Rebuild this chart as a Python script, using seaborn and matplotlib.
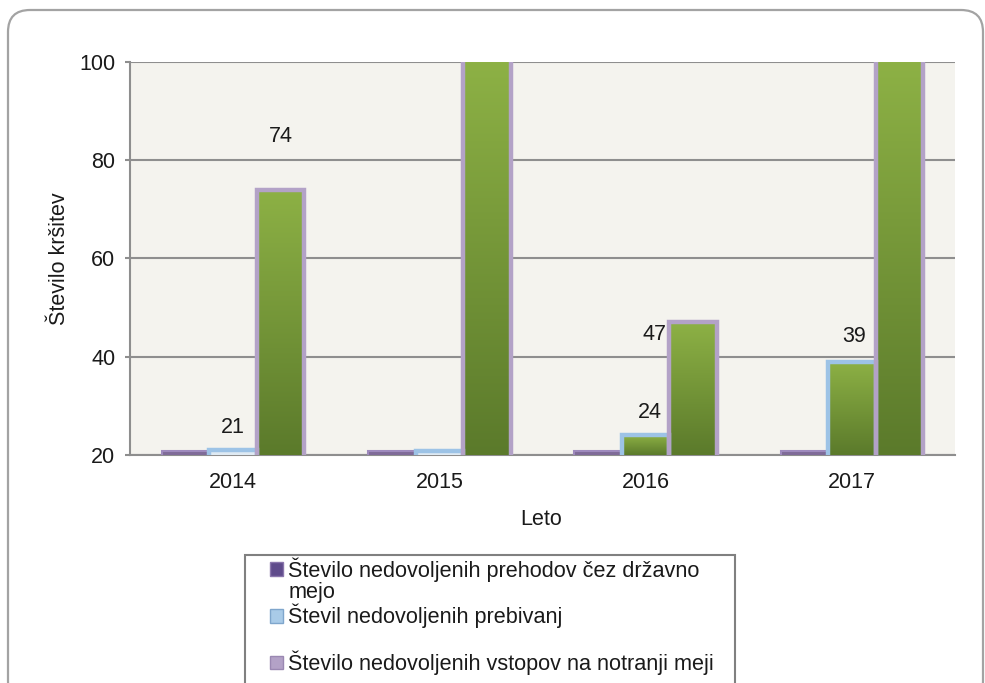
import numpy as np
import pandas as pd
import matplotlib
matplotlib.use("Agg")
import matplotlib.pyplot as plt
import seaborn as sns
from matplotlib.colors import to_rgb
from matplotlib.patches import Patch, FancyBboxPatch, Rectangle

# ----------------------- Podatki ------------------------
leta = ["2014", "2015", "2016", "2017"]
serije = ["Število nedovoljenih prehodov čez državno mejo",
          "Števil nedovoljenih prebivanj",
          "Število nedovoljenih vstopov na notranji meji"]
prehodi = [20.8, 20.8, 20.8, 20.8]
prebivanja = [21, 20.8, 24, 39]
vstopi = [74, 125, 47, 125]
oznake = {1: ["21", None, "24", "39"], 2: ["74", None, "47", None]}

df = pd.DataFrame({
    "Leto": leta * 3,
    "serija": [serije[0]] * 4 + [serije[1]] * 4 + [serije[2]] * 4,
    "vrednost": prehodi + prebivanja + vstopi,
})

# ----------------------- Graf ------------------------
sns.set_style("white")
plt.rcParams["font.family"] = ["Liberation Sans", "DejaVu Sans"]

fig = plt.figure(figsize=(9.85, 6.83), dpi=100)
ax = fig.add_axes([130 / 985, 1 - 455 / 683, 825 / 985, 393 / 683])
ax.set_facecolor("#F4F3EE")

barve = ["#7E63A0", "#DCEAF6", "#7A9B38"]
sns.barplot(data=df, x="Leto", y="vrednost", hue="serija", hue_order=serije,
            palette=barve, width=0.69, legend=False, ax=ax, zorder=3)

ymin, ymax = 20, 100
ax.set_ylim(ymin, ymax)
ax.set_yticks([20, 40, 60, 80, 100])
ax.set_axisbelow(True)
ax.grid(axis="y", color="#8E8E8E", lw=1.5)
ax.grid(axis="x", visible=False)

# gradient zelenih stolpcev
zg, sp = np.array(to_rgb("#8DB145")), np.array(to_rgb("#5B7A2B"))

robovi = ["#9E8ABD", "#9DC3E6", "#B3A2C7"]
zelena = {1: [False, False, True, True], 2: [True, True, True, True]}
for i, cont in enumerate(ax.containers):
    for j, bar in enumerate(cont):
        bar.set_edgecolor(robovi[i])
        bar.set_linewidth(3.2 if i > 0 else 1.5)
        if i in zelena and zelena[i][j]:
            x0 = bar.get_x()
            x1 = x0 + bar.get_width()
            y0 = max(bar.get_y(), ymin)
            y1 = min(bar.get_y() + bar.get_height(), ymax)
            t = np.linspace(0, 1, 256)[:, None, None]
            grad = zg * (1 - t) + sp * t
            im = ax.imshow(grad, extent=[x0, x1, y0, y1], origin="upper",
                           aspect="auto", zorder=2.9, interpolation="bilinear")
            im.set_clip_box(ax.bbox)
            bar.set_facecolor("none")

# oznake vrednosti
zamiki = {(1, 0): (0, 23), (1, 2): (4, 23), (1, 3): (2, 25),
          (2, 0): (0, 53), (2, 2): (-39, -12)}
for (i, j), (dx, dy) in zamiki.items():
    bar = ax.containers[i][j]
    ax.annotate(oznake[i][j], (bar.get_x() + bar.get_width() / 2, bar.get_height()),
                xytext=(dx, dy), textcoords="offset pixels", ha="center", va="center",
                fontsize=15.5, color="#1A1A1A", zorder=5, annotation_clip=False)

ax.set_xlim(-0.5, 3.5)
ax.set_ylim(ymin, ymax)

for s in ["top", "right"]:
    ax.spines[s].set_visible(False)
for s in ["left", "bottom"]:
    ax.spines[s].set_color("#8E8E8E")
    ax.spines[s].set_linewidth(1.5)

ax.set_xticks([-0.5, 0.5, 1.5, 2.5, 3.5], minor=True)
ax.tick_params(axis="x", which="major", length=0, pad=12, labelsize=15.5, labelcolor="#1A1A1A")
ax.tick_params(axis="x", which="minor", length=5, width=1.5, color="#8E8E8E", direction="out")
ax.tick_params(axis="y", length=3.5, width=1.5, color="#8E8E8E", direction="out", left=True,
               pad=7, labelsize=15.5, labelcolor="#1A1A1A")

ax.set_xlabel("Leto", fontsize=15.5, va="center", color="#1A1A1A")
ax.xaxis.set_label_coords(0.498, -0.165)
ax.set_ylabel("Število kršitev", fontsize=15.5, va="center", color="#1A1A1A")
ax.yaxis.set_label_coords(-0.085, 0.5)

# okvir
fig.patches.append(FancyBboxPatch((8, -20), 975, 693, boxstyle="round,pad=0,rounding_size=22",
                                  transform=None, fill=False, edgecolor="#A3A3A3", lw=1.6))

# legenda
fig.patches.append(Rectangle((245 / 985, -0.05), 490 / 985, 0.05 + 128 / 683,
                             transform=fig.transFigure, fill=False, edgecolor="#808080", lw=1.5))
prazno = Patch(facecolor="none", edgecolor="none")
rocaji = [Patch(facecolor="#5F4B8B", edgecolor="#8A76AC"), prazno,
          Patch(facecolor="#A9CBE8", edgecolor="#7FA6CC"), prazno,
          Patch(facecolor="#B3A2C7", edgecolor="#9A88B2")]
napisi = ["Število nedovoljenih prehodov čez državno", "mejo",
          "Števil nedovoljenih prebivanj", " ",
          "Število nedovoljenih vstopov na notranji meji"]
fig.legend(rocaji, napisi, loc="upper left", bbox_to_anchor=(270 / 985, 1 - 557 / 683),
           frameon=False, borderpad=0, borderaxespad=0, fontsize=15.6, handlelength=0.6,
           handleheight=0.6, handletextpad=0.25, labelspacing=0.03, labelcolor="#1A1A1A")

fig.savefig("out.png", dpi=100)
